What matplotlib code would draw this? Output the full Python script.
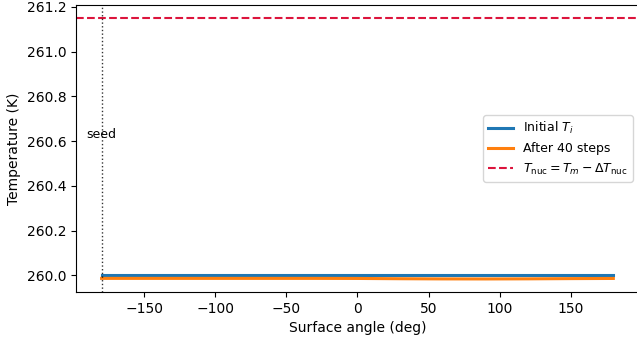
import numpy as np
import matplotlib.pyplot as plt

# surface angle grid and temperatures (K)
angle = [-180, -150, -120, -90, -60, -30, 0, 30, 60, 90, 120, 150, 180]
T_init = [260.0] * len(angle)
T_after = [259.9865, 259.9865, 259.9865, 259.9865, 259.9865, 259.9865, 259.9862,
           259.9850, 259.9842, 259.9840, 259.9845, 259.9855, 259.9862]
T_nuc = 261.15
seed_angle = -180

fig = plt.figure(figsize=(6.37, 3.44), dpi=100)
ax = fig.add_axes([0.1193, 0.1512, 0.8837, 0.8343])

ax.plot(angle, T_init, color='tab:blue', lw=2.2, label=r'Initial $T_i$')
ax.plot(angle, T_after, color='tab:orange', lw=2.2, label='After 40 steps')
ax.axhline(T_nuc, color='crimson', ls='--', lw=1.5,
           label=r'$T_{\rm nuc} = T_m - \Delta T_{\rm nuc}$')
ax.axvline(seed_angle, color='k', ls=':', lw=1, alpha=0.8)
ax.text(seed_angle, 260.63, 'seed', ha='center', va='center', fontsize=9)

ax.set_xlabel('Surface angle (deg)')
ax.set_ylabel('Temperature (K)')
ax.legend(loc='center right', fontsize=9)

fig.savefig('out.png', dpi=100)
